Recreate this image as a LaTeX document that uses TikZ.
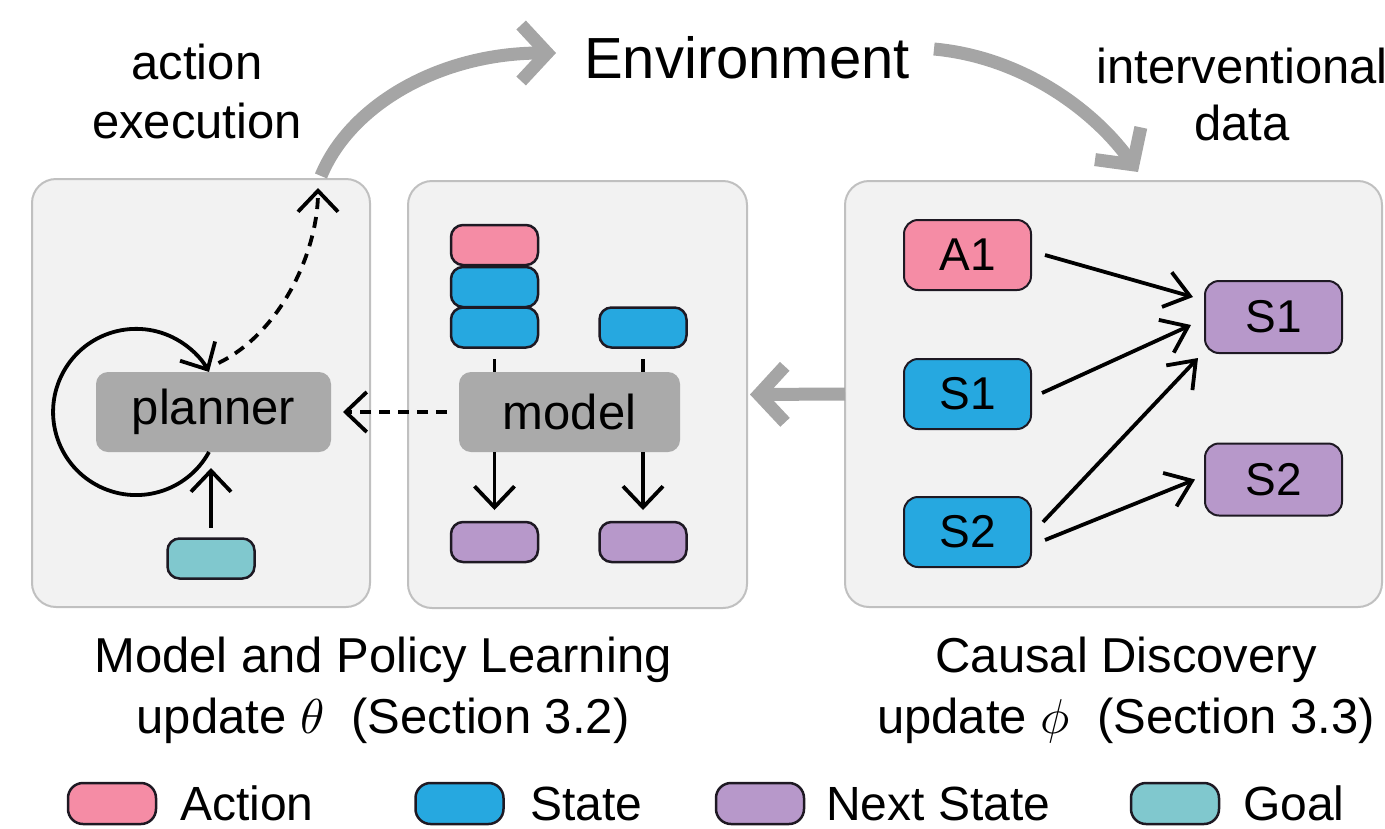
\documentclass[tikz,border=0pt]{standalone}
\usepackage{fontspec}
\setmainfont{Liberation Sans}
\DeclareFontShape{OML}{cmm}{m}{it}{<->cmmi10}{}
\usetikzlibrary{arrows.meta,calc}
\definecolor{actionpink}{RGB}{245,140,165}
\definecolor{stateblue}{RGB}{38,168,224}
\definecolor{nextpurple}{RGB}{183,152,202}
\definecolor{goalteal}{RGB}{128,200,206}
\definecolor{panelfill}{RGB}{242,242,242}
\definecolor{panelline}{RGB}{192,192,192}
\definecolor{nodegray}{RGB}{170,170,170}
\definecolor{arrowgray}{RGB}{165,165,165}
\definecolor{outline}{RGB}{30,25,35}
\begin{document}
\begin{tikzpicture}[x=1pt,y=-1pt,
  panel/.style={draw=panelline, fill=panelfill, line width=2pt, rounded corners=24pt, inner sep=0pt, outer sep=0pt},
  graybox/.style={fill=nodegray, rounded corners=12pt, inner sep=0pt, outer sep=0pt, minimum height=80pt, font=\fontsize{49}{59}\selectfont},
  chip/.style={draw=outline, line width=2.5pt, rounded corners=12pt, minimum width=87pt, minimum height=40pt, inner sep=0pt, outer sep=0pt},
  cnode/.style={draw=outline, line width=2pt, rounded corners=14pt, minimum width=127pt, minimum height=70pt, inner sep=0pt, outer sep=0pt, font=\fontsize{46}{55}\selectfont},
  bigarrow/.style={draw=arrowgray, line width=13pt, -{Straight Barb[length=26pt,width=56pt]}},
  thinarrow/.style={draw=black, line width=3.8pt, -{Straight Barb[length=21pt,width=40pt]}},
  carrow/.style={draw=black, line width=3.8pt, -{Straight Barb[length=24pt,width=36pt]}},
  dasharrow/.style={thinarrow, dash pattern=on 11pt off 8pt},
  txt/.style={font=\fontsize{49}{59}\selectfont, anchor=base, align=center, inner sep=0pt},
  legtxt/.style={font=\fontsize{48}{58}\selectfont, anchor=base west, inner sep=0pt}
]
\useasboundingbox (0,0) rectangle (1385,828);

% panels
\node[panel, minimum width=338pt, minimum height=428pt] (p1) at (201,393) {};
\node[panel, minimum width=339pt, minimum height=427pt] (p2) at (577.5,394.5) {};
\node[panel, minimum width=537pt, minimum height=426pt] (p3) at (1113.5,394) {};

% left panel
\node[graybox, minimum width=235pt] (planner) at (213.5,412) {planner};
\node[chip, fill=goalteal] (goal) at (211,558.5) {};
\draw[thinarrow] ($(goal.north)+(0,-11)$) -- ($(goal.north |- planner.south)+(0,16)$);
\draw[thinarrow] ($(planner.south)+(-4.5,0)$) arc[start angle=28.8, end angle=331.2, radius=83.1];
\coordinate (exec) at (318,188);
\draw[dasharrow] ($(planner.north)+(5,-9)$) .. controls (282,332) and (318,250) .. (exec);

% middle panel
\node[graybox, minimum width=221pt] (model) at (569.5,412) {model};
\node[chip, fill=actionpink] (ma) at (494.5,245) {};
\node[chip, fill=stateblue] (ms1) at (494.5,287) {};
\node[chip, fill=stateblue] (ms2) at (494.5,327.5) {};
\node[chip, fill=stateblue] (ms3) at (643,327.5) {};
\node[chip, fill=nextpurple] (mn1) at (494.5,542) {};
\node[chip, fill=nextpurple] (mn2) at (643,542) {};
\draw[line width=3.8pt] ($(ms2.south)+(0,11.5)$) -- (ms2.south |- model.north);
\draw[line width=3.8pt] ($(ms3.south)+(0,11.5)$) -- (ms3.south |- model.north);
\draw[thinarrow] (model.south -| mn1.north) -- ($(mn1.north)+(0,-12)$);
\draw[thinarrow] (model.south -| mn2.north) -- ($(mn2.north)+(0,-12)$);
\draw[dasharrow, shorten <=12pt, shorten >=12pt] (model.west) -- (planner.east);

% right panel
\node[cnode, fill=actionpink] (ca) at (967.5,255) {A1};
\node[cnode, fill=stateblue] (cs1) at (967.5,394) {S1};
\node[cnode, fill=stateblue] (cs2) at (967.5,532) {S2};
\node[cnode, fill=nextpurple, minimum width=137pt, minimum height=72pt] (cn1) at (1273.5,317) {S1};
\node[cnode, fill=nextpurple, minimum width=137pt, minimum height=72pt] (cn2) at (1273.5,479.5) {S2};
\draw[carrow] ($(ca.east)+(14,0)$) -- ($(cn1.west)+(-12,-20)$);
\draw[carrow] ($(cs1.east)+(11,-1)$) -- ($(cn1.west)+(-14,8)$);
\draw[carrow] ($(cs2.east)+(12,-10)$) -- ($(cn1.west)+(-7,41)$);
\draw[carrow] ($(cs2.east)+(14,8)$) -- ($(cn2.west)+(-10,0)$);

% environment loop
\node[txt, font=\fontsize{58}{70}\selectfont] (env) at (747,78) {Environment};
\node[txt] (actexec) at (197,138) {action\\execution};
\node[txt, font=\fontsize{49}{57}\selectfont] (intdata) at (1242,140) {interventional\\data};
\coordinate (execout) at (321,176);
\coordinate (envin) at (556,53);
\coordinate (envout) at (934,49);
\coordinate (intv) at (1138,172);
\draw[bigarrow] (execout) .. controls (350,105) and (440,53) .. (envin);
\draw[bigarrow] (envout) .. controls (1030,58) and (1100,118) .. (intv);
\draw[bigarrow] (p3.west) -- ($(p2.east)+(3,0)$);

% captions
\node[txt, font=\fontsize{49}{61}\selectfont] (cap1) at (383,733) {Model and Policy Learning\\update $\theta$~~(Section 3.2)};
\node[txt, font=\fontsize{49}{61}\selectfont] (cap2) at (1126,733) {Causal Discovery\\update $\phi$~~(Section 3.3)};

% legend
\node[chip, fill=actionpink, minimum width=88pt, minimum height=41pt, rounded corners=15pt] (lga) at (112,803.5) {};
\node[legtxt] (lgat) at (180,820) {Action};
\node[chip, fill=stateblue, minimum width=88pt, minimum height=41pt, rounded corners=15pt] (lgs) at (459.5,803.5) {};
\node[legtxt] (lgst) at (530,820) {State};
\node[chip, fill=nextpurple, minimum width=88pt, minimum height=41pt, rounded corners=15pt] (lgn) at (760,803.5) {};
\node[legtxt] (lgnt) at (826,820) {Next State};
\node[chip, fill=goalteal, minimum width=88pt, minimum height=41pt, rounded corners=15pt] (lgg) at (1175,803.5) {};
\node[legtxt] (lggt) at (1243,820) {Goal};
\end{tikzpicture}
\end{document}
